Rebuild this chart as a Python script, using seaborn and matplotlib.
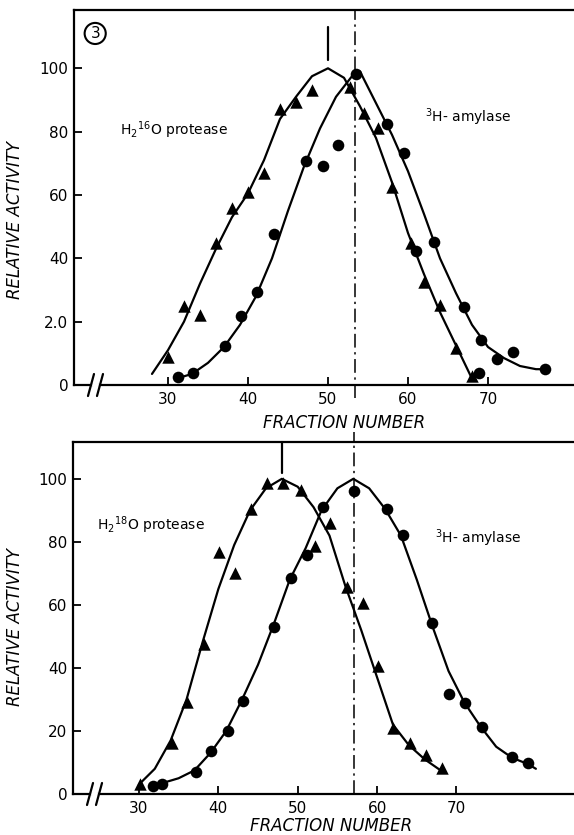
import matplotlib
matplotlib.use('Agg')
import numpy as np
import pandas as pd
import seaborn as sns
import matplotlib.pyplot as plt

sns.set_style('ticks')
plt.rcParams['font.family'] = ['DejaVu Sans']
plt.rcParams['text.color'] = 'black'
plt.rcParams['axes.labelcolor'] = 'black'
plt.rcParams['xtick.color'] = 'black'
plt.rcParams['ytick.color'] = 'black'

# ---- top panel (H2 16O) ----
top_tri_x = [30, 32, 34, 36, 38, 40, 42, 44, 46, 48, 52.7, 54.5, 56.2, 58, 60.4, 62, 64, 66, 68]
top_tri_y = [8.8, 25, 22, 44.8, 55.8, 60.9, 66.9, 87, 89.3, 93, 94, 85.8, 81, 62.5, 44.8, 32.5, 25.2, 11.6, 2.8]
top_dot_x = [31.2, 33.1, 37.1, 39.1, 41.1, 43.2, 47.2, 49.4, 51.2, 53.5, 57.4, 59.5, 61, 63.2, 67, 68.9, 69.1, 71.1, 73.1, 77.1]
top_dot_y = [2.5, 3.7, 12.3, 21.8, 29.3, 47.6, 70.7, 69.1, 75.7, 98.1, 82.3, 73.2, 42.3, 45.1, 24.6, 3.7, 14.2, 8.2, 10.4, 5]

top_prot_cx = [28, 30, 32, 34, 36, 38, 40, 42, 44, 46, 48, 50, 52, 54, 56, 58, 60, 62, 64, 66, 68]
top_prot_cy = [3.5, 11, 20, 32, 43, 53, 60.5, 71, 84, 91, 97.5, 100, 97, 88, 78, 64, 48, 35, 23, 12.5, 2]
top_amy_cx = [31, 33, 35, 37, 39, 41, 43, 45, 47, 49, 51, 53, 54, 56, 58, 60, 62, 64, 66, 68, 70, 72, 74, 76, 77]
top_amy_cy = [2, 3.5, 7, 12, 19, 28, 40, 55, 69, 81, 91, 97.5, 99, 89, 79, 67.5, 54, 40, 29, 19, 12, 8.5, 6, 5, 5]

# ---- bottom panel (H2 18O) ----
bot_tri_x = [30.1, 34.2, 36, 38.2, 40.1, 42.1, 44.1, 46.1, 48.1, 50.4, 52.2, 54.1, 56.2, 58.2, 60.1, 62, 64.1, 66.1, 68.2]
bot_tri_y = [3.2, 16.2, 29.2, 47.6, 76.8, 70.2, 90.5, 98.7, 98.7, 96.5, 78.7, 86, 65.7, 60.6, 40.6, 21, 16.2, 12.4, 8.3]
bot_dot_x = [31.8, 32.9, 37.2, 39.1, 41.2, 43.1, 47, 49.1, 51.2, 53.2, 57.1, 61.2, 63.2, 66.9, 69, 71.1, 73.2, 77, 79]
bot_dot_y = [2.5, 3.2, 7, 13.7, 20, 29.5, 53, 68.6, 75.9, 91.1, 96.2, 90.5, 82.2, 54.3, 31.7, 28.9, 21.3, 11.7, 9.8]

bot_prot_cx = [30, 32, 34, 36, 38, 40, 42, 44, 46, 48, 50, 52, 54, 56, 58, 60, 62, 64, 66, 68]
bot_prot_cy = [3, 8, 17, 30, 48, 65, 79, 90, 97, 100, 97.5, 91, 82, 66, 52, 37, 22, 15.5, 11, 7.5]
bot_amy_cx = [31.5, 33, 35, 37, 39, 41, 43, 45, 47, 49, 51, 53, 55, 57, 59, 61, 63, 65, 67, 69, 71, 73, 75, 77, 79, 80]
bot_amy_cy = [2, 3.5, 5, 7.5, 13, 20, 30, 41, 54, 68, 78, 90, 97, 100, 97, 90.5, 82, 68, 53, 39, 29, 21.5, 15, 11.5, 9.5, 8]

ytick_vals = [0, 20, 40, 60, 80, 100]
top_ytick_labels = ['0', '2.0', '40', '60', '80', '100']
bot_ytick_labels = ['0', '20', '40', '60', '80', '100']
xtick_vals = [30, 40, 50, 60, 70]

panels = [
    dict(tri_x=top_tri_x, tri_y=top_tri_y, dot_x=top_dot_x, dot_y=top_dot_y,
         pcx=top_prot_cx, pcy=top_prot_cy, acx=top_amy_cx, acy=top_amy_cy,
         rect=[0.1289, 0.5389, 0.8711, 0.4491], xlim=(18.25, 80.75), ylim=(0, 118.4),
         ylabels=top_ytick_labels, peak_prot=50, peak_amy=53.4, mark_y=(102.5, 113),
         dd_y=(-4.2, 118.4), prot_label=r'H$_2$$^{16}$O protease', prot_xy=(24, 80.5),
         amy_xy=(62.1, 84.6), xlab=(0.54, -0.078), ylab=(-0.10, 0.44), circ=(20.9, 111)),
    dict(tri_x=bot_tri_x, tri_y=bot_tri_y, dot_x=bot_dot_x, dot_y=bot_dot_y,
         pcx=bot_prot_cx, pcy=bot_prot_cy, acx=bot_amy_cx, acy=bot_amy_cy,
         rect=[0.1272, 0.0491, 0.8728, 0.4216], xlim=(21.7, 84.8), ylim=(0, 111.7),
         ylabels=bot_ytick_labels, peak_prot=48, peak_amy=57.1, mark_y=(102, 111.7),
         dd_y=(0, 114.9), prot_label=r'H$_2$$^{18}$O protease', prot_xy=(24.7, 85.4),
         amy_xy=(67.3, 81.3), xlab=(0.516, -0.066), ylab=(-0.098, 0.474), circ=None),
]

fig = plt.figure(figsize=(5.74, 8.35), dpi=100)

for p in panels:
    ax = fig.add_axes(p['rect'])
    sns.lineplot(x=p['pcx'], y=p['pcy'], ax=ax, color='black', lw=1.6, sort=False, estimator=None)
    sns.lineplot(x=p['acx'], y=p['acy'], ax=ax, color='black', lw=1.6, sort=False, estimator=None)
    sns.scatterplot(x=p['tri_x'], y=p['tri_y'], ax=ax, marker='^', s=80, color='black',
                    edgecolor='black', linewidth=0, zorder=3)
    sns.scatterplot(x=p['dot_x'], y=p['dot_y'], ax=ax, marker='o', s=70, color='black',
                    edgecolor='black', linewidth=0, zorder=3)

    ax.set_xlim(*p['xlim'])
    ax.set_ylim(*p['ylim'])

    # dash-dot line at amylase peak, short solid mark at protease peak
    ax.plot([p['peak_amy'], p['peak_amy']], list(p['dd_y']), color='black', lw=1.1,
            dashes=(9, 3, 1.5, 3), clip_on=False, zorder=1)
    ax.plot([p['peak_prot'], p['peak_prot']], list(p['mark_y']), color='black', lw=1.6,
            clip_on=False)

    ax.set_xticks(xtick_vals)
    ax.set_yticks(ytick_vals)
    ax.set_yticklabels(p['ylabels'])
    ax.tick_params(direction='in', length=6, width=1.3, labelsize=11, color='black')
    ax.tick_params(axis='x', pad=5)
    ax.tick_params(axis='y', pad=4)

    for side in ['top', 'left', 'bottom']:
        ax.spines[side].set_linewidth(1.6)
        ax.spines[side].set_color('black')
    ax.spines['right'].set_visible(False)

    ax.set_xlabel('FRACTION NUMBER', fontsize=12, style='italic')
    ax.set_ylabel('RELATIVE ACTIVITY', fontsize=12, style='italic')
    ax.xaxis.set_label_coords(*p['xlab'])
    ax.yaxis.set_label_coords(*p['ylab'])

    ax.text(p['prot_xy'][0], p['prot_xy'][1], p['prot_label'], fontsize=10, va='center', ha='left')
    ax.text(p['amy_xy'][0], p['amy_xy'][1], r'$^3$H- amylase', fontsize=10, va='center', ha='left')

    if p['circ'] is not None:
        ax.text(p['circ'][0], p['circ'][1], '3', fontsize=11, ha='center', va='center',
                bbox=dict(boxstyle='circle,pad=0.2', fc='white', ec='black', lw=1.5))

    # axis break marks on the x axis
    w_px = p['rect'][2] * 574
    h_px = p['rect'][3] * 835
    x1, x2 = 17 / w_px, 26 / w_px
    dy = 11 / h_px
    dx = 3 / w_px
    ax.plot([x1 + dx, x2 - dx], [0, 0], transform=ax.transAxes, color='white', lw=3,
            clip_on=False, zorder=5)
    for xb in (x1, x2):
        ax.plot([xb - dx, xb + dx], [-dy, dy], transform=ax.transAxes, color='black',
                lw=1.6, clip_on=False, zorder=6)

fig.savefig('out.png', dpi=100)
